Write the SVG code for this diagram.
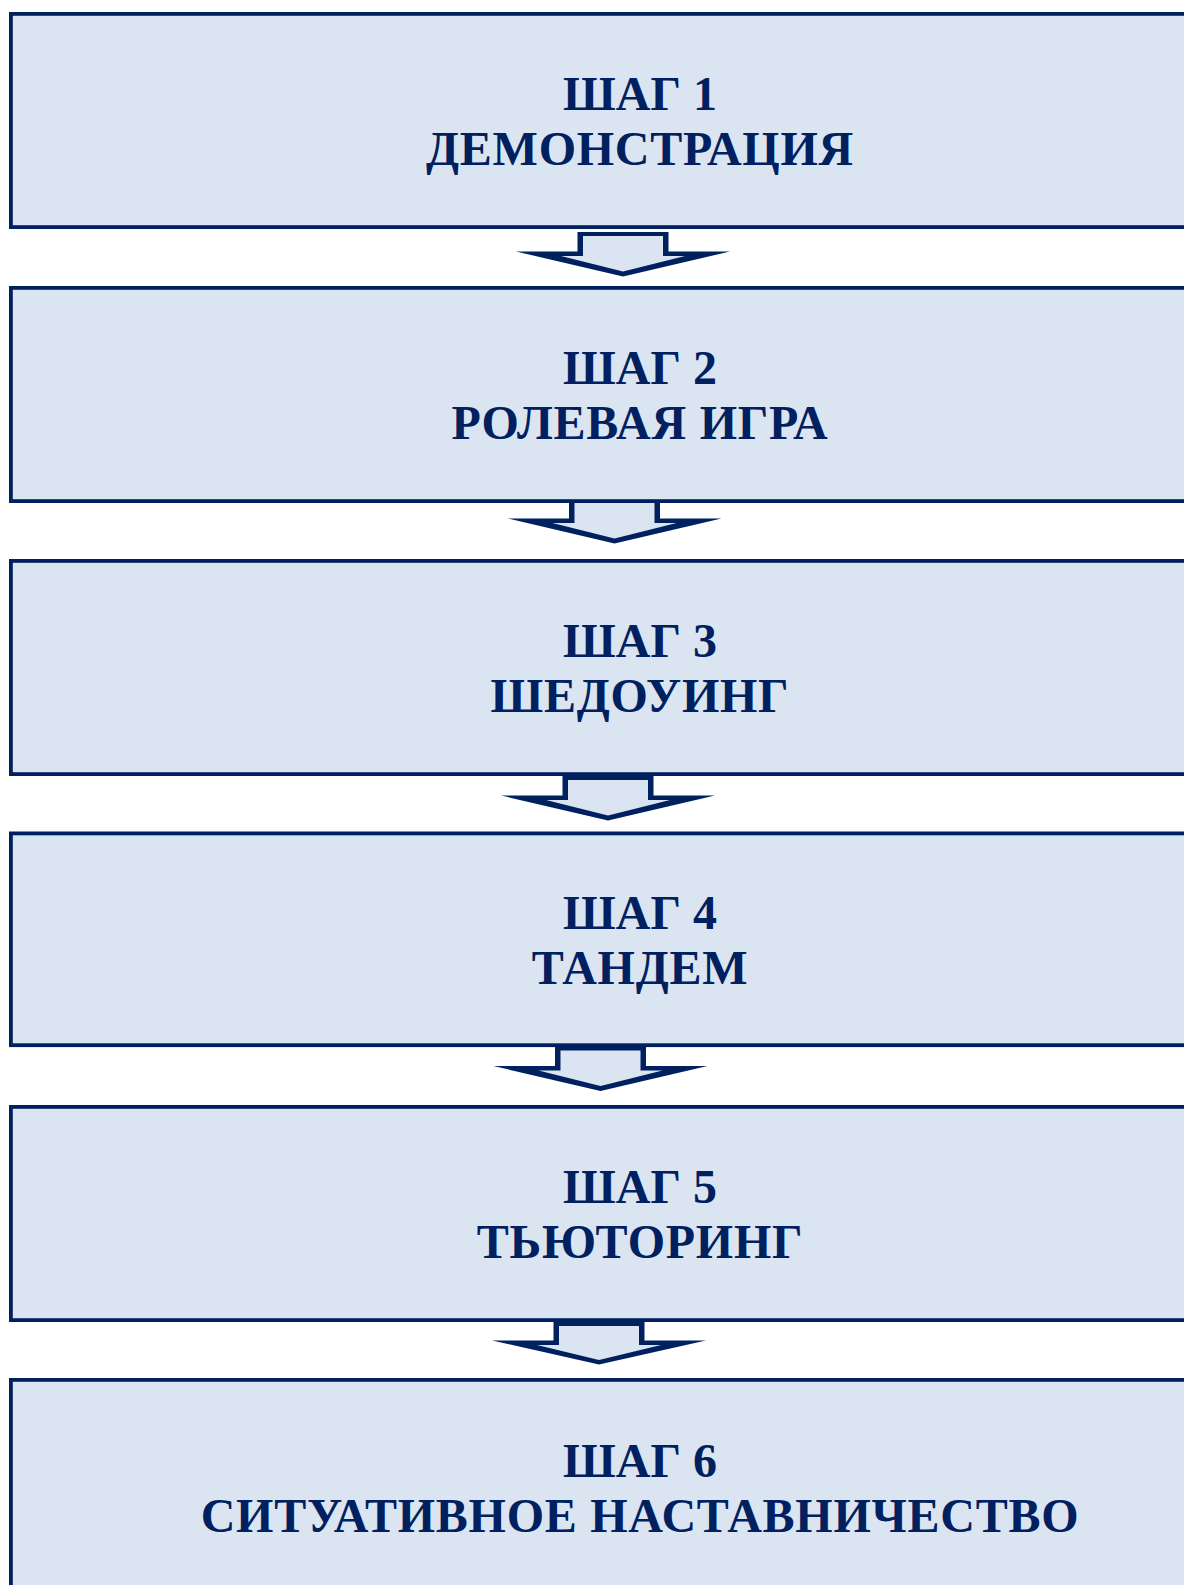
<svg xmlns="http://www.w3.org/2000/svg" width="1184" height="1585" viewBox="0 0 1184 1585">
<style>
.box{fill:#DBE5F1;stroke:#002060;stroke-width:3.8}
.ao{fill:#002060}
.ai{fill:#DBE5F1}
.t{font-family:"Liberation Serif","Times New Roman",serif;font-weight:bold;font-size:48px;fill:#002060;text-anchor:middle}
.w{letter-spacing:0.75px}
</style>
<rect width="1184" height="1585" fill="#FFFFFF"/>
<g id="connectors">
<g transform="translate(623,232)"><polygon class="ao" points="-45.5,0 45.5,0 45.5,19.5 107,19.5 0,44.5 -107,19.5 -45.5,19.5"/><polygon class="ai" points="-40,4 40,4 40,24 62,24 0,39.5 -62,24 -40,24"/></g>
<g transform="translate(614.5,499)"><polygon class="ao" points="-45.5,0 45.5,0 45.5,19.5 107,19.5 0,44.5 -107,19.5 -45.5,19.5"/><polygon class="ai" points="-40,4 40,4 40,24 62,24 0,39.5 -62,24 -40,24"/></g>
<g transform="translate(608,776)"><polygon class="ao" points="-45.5,0 45.5,0 45.5,19.5 107,19.5 0,44.5 -107,19.5 -45.5,19.5"/><polygon class="ai" points="-40,4 40,4 40,24 62,24 0,39.5 -62,24 -40,24"/></g>
<g transform="translate(600.5,1046.5)"><polygon class="ao" points="-45.5,0 45.5,0 45.5,19.5 107,19.5 0,44.5 -107,19.5 -45.5,19.5"/><polygon class="ai" points="-40,4 40,4 40,24 62,24 0,39.5 -62,24 -40,24"/></g>
<g transform="translate(599,1322)"><polygon class="ao" points="-45.5,0 45.5,0 45.5,18.5 107,18.5 0,42.5 -107,18.5 -45.5,18.5"/><polygon class="ai" points="-40,4 40,4 40,23 62,23 0,38 -62,23 -40,23"/></g>
</g>
<g id="step1"><rect class="box" x="10.9" y="13.9" width="1300" height="213.2"/><text class="t" x="640" y="109.5">ШАГ 1</text><text class="t w" x="640" y="164.5">ДЕМОНСТРАЦИЯ</text></g>
<g id="step2"><rect class="box" x="10.9" y="287.9" width="1300" height="213.2"/><text class="t" x="640" y="383.5">ШАГ 2</text><text class="t w" x="640" y="438.5">РОЛЕВАЯ ИГРА</text></g>
<g id="step3"><rect class="box" x="10.9" y="560.9" width="1300" height="213.2"/><text class="t" x="640" y="656.5">ШАГ 3</text><text class="t w" x="640" y="711.5">ШЕДОУИНГ</text></g>
<g id="step4"><rect class="box" x="10.9" y="833.4" width="1300" height="211.8"/><text class="t" x="640" y="929">ШАГ 4</text><text class="t w" x="640" y="984">ТАНДЕМ</text></g>
<g id="step5"><rect class="box" x="10.9" y="1106.9" width="1300" height="213.2"/><text class="t" x="640" y="1202.5">ШАГ 5</text><text class="t w" x="640" y="1257.5">ТЬЮТОРИНГ</text></g>
<g id="step6"><rect class="box" x="10.9" y="1379.9" width="1300" height="300"/><text class="t" x="640" y="1477">ШАГ 6</text><text class="t w" x="640" y="1532">СИТУАТИВНОЕ НАСТАВНИЧЕСТВО</text></g>
</svg>
